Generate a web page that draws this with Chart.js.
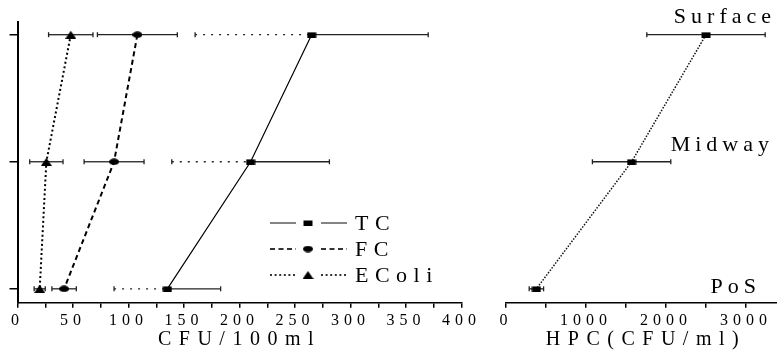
<!DOCTYPE html>
<html>
<head>
<meta charset="utf-8">
<script src="https://cdn.jsdelivr.net/npm/chart.js@4.4.0/dist/chart.umd.min.js"></script>
<style>
html, body { margin: 0; padding: 0; background: #fff; overflow: hidden; width: 777px; height: 352px; }
#wrap-left { position: absolute; left: 0; top: 0; width: 490px; height: 352px; }
#wrap-right { position: absolute; left: 480px; top: 0; width: 320px; height: 352px; }
</style>
</head>
<body>
<div id="wrap-left"><canvas id="chart-left"></canvas></div>
<div id="wrap-right"><canvas id="chart-right"></canvas></div>
<script>
// Data
const depths = ['Surface', 'Midway', 'PoS'];
const depthPos = [2, 1, 0];

const tcMean = [265, 210, 135];
const tcErr = [105, 71, 48];
const fcMean = [108, 87, 42];
const fcErr = [36, 27, 11];
const ecoliMean = [48, 26, 20];
const ecoliErr = [20, 15, 5];

const hpcMean = [2500, 1570, 380];
const hpcErr = [740, 490, 90];

const cfuTickLabels = [0, 50, 100, 150, 200, 250, 300, 350, 400];
const hpcTickLabels = [0, 1000, 2000, 3000];

const FONT = "'Liberation Serif', serif";
Chart.defaults.font.family = FONT;
Chart.defaults.color = '#000';

// marker images (flattened shapes like the original)
function marker(shape) {
    const c = document.createElement('canvas');
    const g = c.getContext('2d');
    g.fillStyle = '#000';
    if (shape === 'rect') {
        c.width = 10; c.height = 6;
        g.fillRect(0.5, 0.5, 9, 5.5);
    } else if (shape === 'circle') {
        c.width = 10; c.height = 7;
        g.beginPath(); g.ellipse(5, 3.5, 5, 3.3, 0, 0, Math.PI * 2); g.fill();
    } else {
        c.width = 11; c.height = 8;
        g.beginPath(); g.moveTo(0, 8); g.lineTo(5.5, 0); g.lineTo(11, 8); g.closePath(); g.fill();
    }
    return c;
}
const mRect = marker('rect'), mCircle = marker('circle'), mTri = marker('tri');

const toPoints = (vals) => vals.map((v, i) => ({ x: v, y: depthPos[i] }));

// letter spacing for tick labels
const spacing = {
    id: 'spacing',
    beforeUpdate(chart) { chart.ctx.letterSpacing = '5px'; },
    beforeDraw(chart) { chart.ctx.letterSpacing = '5px'; }
};

const errorBars = {
    id: 'errorBars',
    beforeDatasetsDraw(chart) {
        const { ctx, scales: { x, y } } = chart;
        const seg = (a, b, c, d) => { ctx.beginPath(); ctx.moveTo(a, b); ctx.lineTo(c, d); ctx.stroke(); };
        chart.data.datasets.forEach(ds => {
            if (!ds.errors) return;
            ds.data.forEach((p, i) => {
                const py = y.getPixelForValue(p.y);
                const xl = x.getPixelForValue(p.x - ds.errors[i]);
                const xc = x.getPixelForValue(p.x);
                const xr = x.getPixelForValue(p.x + ds.errors[i]);
                ctx.save();
                ctx.strokeStyle = '#222';
                ctx.lineWidth = 1.3;
                ctx.setLineDash(ds.leftDash || []);
                seg(xl, py, xc, py);
                ctx.setLineDash([]);
                seg(xc, py, xr, py);
                seg(xl, py - 2.5, xl, py + 2.5);
                seg(xr, py - 2.5, xr, py + 2.5);
                ctx.restore();
            });
        });
    }
};

const axisTitle = {
    id: 'axisTitle',
    afterDraw(chart, args, opts) {
        const { ctx, chartArea } = chart;
        ctx.save();
        ctx.letterSpacing = '7.5px';
        ctx.font = '20px ' + FONT;
        ctx.fillStyle = '#000';
        ctx.textAlign = 'center';
        ctx.textBaseline = 'alphabetic';
        ctx.fillText(opts.text, (chartArea.left + chartArea.right) / 2 + (opts.shift || 0), 345);
        ctx.restore();
    }
};

const lineLegend = {
    id: 'lineLegend',
    afterDraw(chart) {
        const { ctx } = chart;
        ctx.save();
        chart.data.datasets.forEach((ds, i) => {
            const y = 223 + i * 26;
            ctx.strokeStyle = '#333';
            ctx.lineWidth = ds.borderWidth;
            ctx.setLineDash(ds.borderDash || []);
            ctx.beginPath(); ctx.moveTo(270, y); ctx.lineTo(296, y); ctx.stroke();
            ctx.beginPath(); ctx.moveTo(321, y); ctx.lineTo(347, y); ctx.stroke();
            ctx.setLineDash([]);
            const img = ds.pointStyle;
            ctx.drawImage(img, 308 - img.width / 2, y - img.height / 2);
            ctx.letterSpacing = '6.5px';
            ctx.font = '22px ' + FONT;
            ctx.fillStyle = '#000';
            ctx.textAlign = 'left';
            ctx.textBaseline = 'middle';
            ctx.fillText(ds.label, 355, y + 1);
        });
        ctx.restore();
    }
};

const depthLabels = {
    id: 'depthLabels',
    afterDraw(chart, args, opts) {
        const { ctx, scales: { y } } = chart;
        ctx.save();
        ctx.letterSpacing = '5px';
        ctx.font = '22px ' + FONT;
        ctx.fillStyle = '#000';
        ctx.textAlign = 'right';
        ctx.textBaseline = 'alphabetic';
        depths.forEach((name, i) => {
            const o = opts.place[i];
            ctx.fillText(name, o.x, y.getPixelForValue(depthPos[i]) + o.dy);
        });
        ctx.restore();
    }
};

const yScale = (show) => ({
    type: 'linear',
    display: show,
    min: -0.11,
    max: 2.1,
    afterBuildTicks: s => { s.ticks = depthPos.map(v => ({ value: v })); },
    ticks: { display: false },
    grid: { display: true, drawOnChartArea: false, drawTicks: true, tickLength: 8, color: '#000', lineWidth: 1.5 },
    border: { display: true, color: '#000', width: 2 }
});

const xScale = (max, step, labels) => ({
    type: 'linear',
    min: 0,
    max: max,
    afterBuildTicks: s => {
        const t = [];
        for (let v = 0; v <= max; v += step) t.push({ value: v });
        s.ticks = t;
    },
    ticks: {
        autoSkip: false, maxRotation: 0, padding: 3,
        color: '#000',
        font: { family: FONT, size: 16 },
        callback: v => labels.includes(v) ? String(v) : ''
    },
    grid: { display: true, drawOnChartArea: false, drawTicks: true, tickLength: 5, color: '#000', lineWidth: 1.5 },
    border: { display: true, color: '#000', width: 1.5 }
});

new Chart(document.getElementById('chart-left').getContext('2d'), {
    type: 'scatter',
    data: {
        datasets: [
            { label: 'TC', data: toPoints(tcMean), errors: tcErr, leftDash: [2, 6],
              showLine: true, borderColor: '#000', borderWidth: 1.2, pointStyle: mRect },
            { label: 'FC', data: toPoints(fcMean), errors: fcErr,
              showLine: true, borderColor: '#000', borderWidth: 2, borderDash: [5, 3.5], pointStyle: mCircle },
            { label: 'EColi', data: toPoints(ecoliMean), errors: ecoliErr,
              showLine: true, borderColor: '#000', borderWidth: 2, borderDash: [2, 2.6], pointStyle: mTri }
        ]
    },
    options: {
        responsive: true, maintainAspectRatio: false, animation: false,
        layout: { padding: { left: 9.5, top: 22, right: 28.5, bottom: 19 } },
        scales: { x: xScale(400, 25, cfuTickLabels), y: yScale(true) },
        plugins: { legend: { display: false }, tooltip: { enabled: false },
                   axisTitle: { text: 'CFU/100ml' } }
    },
    plugins: [spacing, errorBars, axisTitle, lineLegend]
});

new Chart(document.getElementById('chart-right').getContext('2d'), {
    type: 'scatter',
    data: {
        datasets: [
            { label: 'HPC', data: toPoints(hpcMean), errors: hpcErr,
              showLine: true, borderColor: '#111', borderWidth: 1.5, borderDash: [1.5, 1.5], pointStyle: mRect }
        ]
    },
    options: {
        responsive: true, maintainAspectRatio: false, animation: false,
        layout: { padding: { left: 26, top: 22, right: 14, bottom: 19 } },
        scales: { x: xScale(3500, 500, hpcTickLabels), y: yScale(false) },
        plugins: { legend: { display: false }, tooltip: { enabled: false },
                   axisTitle: { text: 'HPC(CFU/ml)' },
                   depthLabels: { place: [{ x: 296, dy: -12 }, { x: 294, dy: -11 }, { x: 281, dy: 4 }] } }
    },
    plugins: [spacing, errorBars, axisTitle, depthLabels]
});
</script>
</body>
</html>
